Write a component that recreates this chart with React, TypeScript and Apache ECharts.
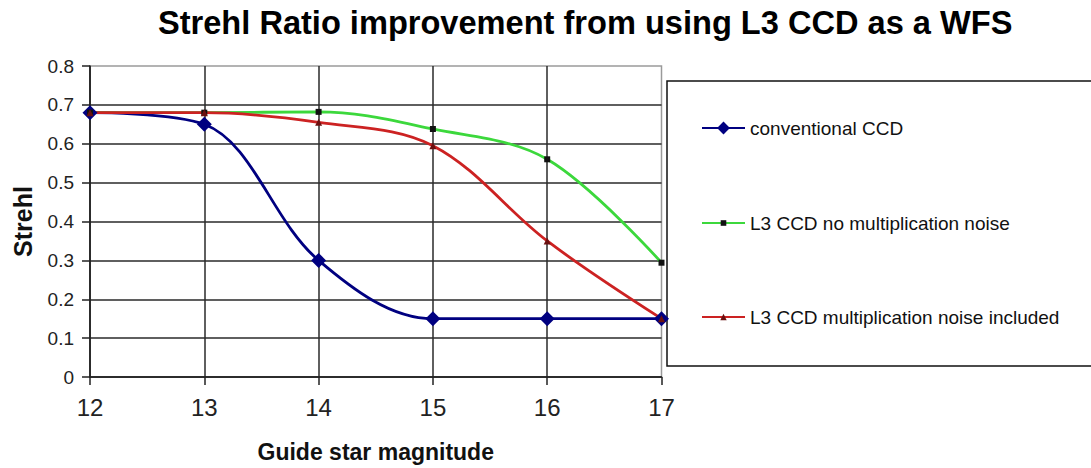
import React, { useEffect, useRef } from "react";
import * as echarts from "echarts";

// Guide star magnitudes on the x axis
const magnitudes = [12, 13, 14, 15, 16, 17];

// Strehl ratio per magnitude for each wavefront-sensor setup
const conventionalCCD = [0.68, 0.65, 0.3, 0.15, 0.15, 0.15];
const l3NoMultNoise = [0.68, 0.68, 0.682, 0.638, 0.56, 0.294];
const l3MultNoise = [0.68, 0.68, 0.655, 0.595, 0.35, 0.15];

const seriesNames = [
  "conventional CCD",
  "L3 CCD no multiplication noise",
  "L3 CCD multiplication noise included",
];

const titleText = "Strehl Ratio improvement from using L3 CCD as a WFS";
const xAxisTitle = "Guide star magnitude";
const yAxisTitle = "Strehl";

const FONT = "'Liberation Sans', Arial, sans-serif";

const toPairs = (ys: number[]) => magnitudes.map((m, i) => [m, ys[i]]);

export default function App() {
  const ref = useRef<HTMLDivElement>(null);

  useEffect(() => {
    if (!ref.current) return;
    const chart = echarts.init(ref.current, null, { renderer: "svg" });

    const legendText = { fontFamily: FONT, fontSize: 19, color: "#111", lineHeight: 22 };

    chart.setOption({
      animation: false,
      backgroundColor: "#ffffff",
      title: {
        text: titleText,
        left: 158,
        top: 6,
        padding: 0,
        textStyle: { fontFamily: FONT, fontSize: 32.6, fontWeight: "bold", color: "#000" },
      },
      grid: {
        left: 90,
        right: 429.5,
        top: 66,
        bottom: 89.7,
        show: true,
        borderColor: "#9a9a9a",
        borderWidth: 1.5,
        backgroundColor: "transparent",
      },
      graphic: [
        {
          type: "rect",
          z: 1,
          shape: { x: 667, y: 81, width: 440, height: 285 },
          style: { fill: "#ffffff", stroke: "#111", lineWidth: 1.5 },
        },
      ],
      legend: [
        {
          data: [seriesNames[0]],
          left: 701,
          top: 117,
          padding: 0,
          itemWidth: 43,
          itemHeight: 16,
          selectedMode: false,
          textStyle: legendText,
        },
        {
          data: [seriesNames[1]],
          left: 701,
          top: 212,
          padding: 0,
          itemWidth: 43,
          itemHeight: 7,
          selectedMode: false,
          textStyle: legendText,
        },
        {
          data: [seriesNames[2]],
          left: 701,
          top: 306,
          padding: 0,
          itemWidth: 43,
          itemHeight: 8,
          selectedMode: false,
          textStyle: legendText,
        },
      ],
      xAxis: {
        type: "value",
        min: 12,
        max: 17,
        interval: 1,
        name: xAxisTitle,
        nameLocation: "middle",
        nameGap: 63,
        nameTextStyle: { fontFamily: FONT, fontSize: 23, fontWeight: "bold", color: "#111" },
        axisLine: { show: true, onZero: false, lineStyle: { color: "#222", width: 1.5 } },
        axisTick: { show: true, inside: false, length: 8, lineStyle: { color: "#222", width: 1.5 } },
        axisLabel: { fontFamily: FONT, fontSize: 24, color: "#222", margin: 18 },
        splitLine: { show: true, showMaxLine: false, lineStyle: { color: "#2a2a2a", width: 1.5 } },
      },
      yAxis: {
        type: "value",
        min: 0,
        max: 0.8,
        interval: 0.1,
        name: yAxisTitle,
        nameLocation: "middle",
        nameRotate: 90,
        nameGap: 55,
        nameTextStyle: { fontFamily: FONT, fontSize: 25, fontWeight: "bold", color: "#111" },
        axisLine: { show: true, lineStyle: { color: "#222", width: 1.5 } },
        axisTick: { show: true, inside: false, length: 8, lineStyle: { color: "#222", width: 1.5 } },
        axisLabel: { fontFamily: FONT, fontSize: 19, color: "#222", margin: 16 },
        splitLine: { show: true, showMaxLine: false, lineStyle: { color: "#2a2a2a", width: 1.5 } },
      },
      series: [
        {
          name: seriesNames[0],
          type: "line",
          data: toPairs(conventionalCCD),
          smooth: 0.35,
          symbol: "diamond",
          symbolSize: 15,
          lineStyle: { color: "#000080", width: 2.8 },
          itemStyle: { color: "#000080" },
        },
        {
          name: seriesNames[1],
          type: "line",
          data: toPairs(l3NoMultNoise),
          smooth: 0.35,
          symbol: "rect",
          symbolSize: 6,
          lineStyle: { color: "#3cd83c", width: 2.8 },
          itemStyle: { color: "#111111" },
        },
        {
          name: seriesNames[2],
          type: "line",
          data: toPairs(l3MultNoise),
          smooth: 0.35,
          symbol: "triangle",
          symbolSize: 7,
          lineStyle: { color: "#cc2222", width: 2.8 },
          itemStyle: { color: "#6a1010" },
        },
      ],
    });

    return () => chart.dispose();
  }, []);

  return (
    <div
      ref={ref}
      style={{ position: "fixed", left: 0, top: 0, width: 1091, height: 468, background: "#fff" }}
    />
  );
}
